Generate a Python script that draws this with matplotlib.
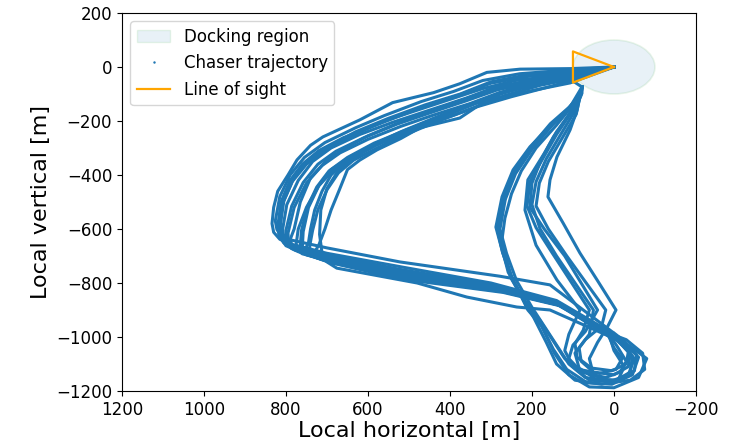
import numpy as np
import matplotlib
matplotlib.use("Agg")
import matplotlib.pyplot as plt
from matplotlib.patches import Ellipse, Patch
from matplotlib.lines import Line2D

# ------------------------------------------------------------
# Chaser trajectories (local frame, metres)
# family A: bottom band -> left corner -> top band -> target
# ------------------------------------------------------------
a1_x = [5, 140, 300, 520, 700, 790, 815, 830, 834, 830, 820, 795, 773, 740, 710, 620, 540, 440, 376, 310, 229, 107, 0]
a1_y = [-985, -865, -800, -740, -690, -655, -638, -612, -580, -520, -460, -400, -344, -290, -259, -196, -132, -95, -62, -20, -8, -6, 0]
a2_x = [8, 150, 290, 520, 710, 785, 805, 817, 820, 812, 790, 760, 720, 660, 580, 470, 380, 300, 210, 100, 0]
a2_y = [-988, -870, -815, -758, -700, -668, -652, -625, -590, -500, -420, -360, -310, -262, -215, -150, -105, -60, -35, -20, 0]
a3_x = [10, 140, 280, 520, 700, 775, 795, 805, 808, 798, 770, 735, 690, 620, 540, 450, 360, 290, 200, 100, 0]
a3_y = [-990, -875, -820, -765, -712, -675, -660, -632, -600, -510, -420, -350, -300, -250, -205, -160, -115, -75, -48, -28, 0]
a4_x = [12, 130, 280, 520, 700, 770, 787, 794, 795, 780, 750, 712, 668, 600, 520, 440, 350, 280, 200, 100, 0]
a4_y = [-992, -880, -825, -772, -718, -684, -672, -645, -615, -520, -430, -365, -318, -268, -220, -178, -135, -95, -62, -35, 0]
a5_x = [15, 130, 270, 520, 690, 728, 732, 720, 705, 690, 670, 650, 620, 578, 520, 473, 376, 310, 205, 107, 0]
a5_y = [-995, -885, -835, -785, -725, -705, -690, -660, -600, -530, -456, -380, -345, -307, -265, -225, -189, -122, -89, -59, 0]
a6_x = [10, 135, 285, 520, 705, 760, 772, 775, 770, 750, 720, 690, 640, 570, 490, 410, 330, 250, 150, 60, 0]
a6_y = [-990, -878, -822, -768, -712, -692, -678, -655, -600, -520, -440, -380, -330, -280, -228, -180, -130, -85, -50, -20, 0]
a7_x = [10, 140, 290, 520, 700, 755, 752, 745, 740, 730, 712, 690, 650, 590, 520, 440, 360, 280, 190, 100, 0]
a7_y = [-990, -872, -815, -762, -706, -686, -672, -650, -600, -530, -460, -400, -345, -290, -240, -190, -142, -100, -65, -38, 0]
a8_x = [5, 156, 278, 522, 700, 790, 810, 822, 826, 815, 790, 755, 705, 630, 560, 470, 390, 320, 230, 120, 0]
a8_y = [-980, -807, -775, -722, -670, -640, -628, -602, -570, -480, -400, -335, -280, -225, -180, -128, -90, -50, -25, -12, 0]
a9_x = [15, 156, 237, 359, 480, 676, 700, 712, 718, 715, 700, 675, 640, 580, 500, 420, 340, 250, 150, 0]
a9_y = [-995, -900, -889, -852, -800, -745, -722, -690, -620, -530, -450, -390, -340, -290, -240, -195, -150, -110, -70, 0]
a10_x = [8, 135, 282, 520, 712, 780, 800, 812, 815, 808, 785, 750, 700, 640, 560, 480, 400, 320, 240, 130, 0]
a10_y = [-988, -876, -818, -762, -705, -675, -662, -635, -600, -505, -425, -360, -305, -255, -200, -160, -120, -80, -50, -30, 0]
a11_x = [12, 145, 285, 520, 705, 770, 785, 790, 780, 765, 740, 700, 655, 600, 530, 450, 370, 300, 210, 110, 0]
a11_y = [-992, -868, -812, -756, -703, -672, -660, -640, -600, -500, -410, -345, -300, -255, -210, -165, -122, -85, -55, -30, 0]
a12_x = [10, 125, 275, 520, 690, 750, 760, 758, 745, 720, 680, 630, 560, 480, 400, 320, 250, 170, 80, 0]
a12_y = [-990, -885, -830, -778, -722, -696, -665, -610, -520, -440, -375, -325, -270, -218, -170, -125, -80, -45, -20, 0]
a13_x = [6, 145, 295, 520, 705, 782, 802, 810, 814, 805, 782, 748, 700, 630, 550, 460, 375, 300, 215, 105, 0]
a13_y = [-986, -868, -808, -750, -695, -662, -650, -620, -585, -495, -415, -350, -298, -240, -190, -140, -100, -55, -30, -15, 0]
a14_x = [12, 138, 282, 520, 698, 755, 765, 762, 748, 725, 695, 650, 585, 505, 425, 345, 270, 185, 95, 0]
a14_y = [-992, -880, -826, -772, -716, -692, -660, -605, -520, -445, -385, -335, -282, -232, -185, -138, -95, -60, -32, 0]
a15_x = [9, 142, 288, 520, 708, 778, 792, 798, 800, 786, 758, 722, 678, 610, 530, 445, 360, 285, 195, 100, 0]
a15_y = [-989, -873, -817, -760, -706, -678, -665, -640, -605, -515, -428, -360, -312, -262, -212, -168, -125, -85, -55, -30, 0]
a16_x = [14, 128, 272, 520, 695, 742, 742, 735, 722, 700, 672, 635, 578, 500, 420, 340, 265, 180, 90, 0]
a16_y = [-994, -884, -832, -780, -723, -698, -662, -605, -528, -455, -392, -345, -300, -245, -195, -150, -105, -68, -40, 0]

# family B: loop near (0,-1000) -> climb -> stop below the cone
b1_x = [0, -40, -80, -60, 0, 60, 110, 145, 176, 210, 246, 271, 288, 273, 246, 205, 149, 107, 78, 95]
b1_y = [-995, -1035, -1080, -1150, -1188, -1185, -1140, -1060, -960, -900, -789, -689, -593, -481, -381, -296, -207, -148, -74, -57]
b2_x = [5, -20, -50, -35, 10, 70, 110, 140, 170, 200, 238, 262, 278, 265, 240, 200, 150, 110, 80, 78]
b2_y = [-995, -1030, -1080, -1140, -1165, -1150, -1100, -1030, -960, -890, -790, -690, -600, -490, -395, -305, -215, -155, -100, -74]
b3_x = [8, -10, -30, -15, 20, 80, 120, 150, 180, 215, 250, 268, 283, 268, 250, 210, 160, 115, 82, 78]
b3_y = [-998, -1040, -1090, -1130, -1150, -1130, -1080, -1010, -940, -870, -780, -680, -595, -500, -410, -320, -225, -160, -102, -74]
b4_x = [10, 0, -25, -10, 30, 95, 140, 165, 195, 225, 258, 275, 266, 250, 226, 190, 140, 105, 78, 78]
b4_y = [-1000, -1050, -1110, -1160, -1175, -1160, -1100, -1020, -930, -850, -760, -660, -560, -470, -385, -300, -215, -150, -98, -74]
b5_x = [5, -30, -70, -75, -40, 10, 50, 60, 40, 15, -5, 41, 83, 124, 161, 156, 139, 107, 90, 78]
b5_y = [-990, -1010, -1060, -1120, -1160, -1170, -1140, -1080, -1020, -960, -900, -789, -689, -578, -481, -418, -333, -233, -160, -74]
b6_x = [10, -20, -45, -40, 0, 60, 100, 120, 110, 95, 83, 139, 190, 217, 210, 170, 140, 100, 80, 78]
b6_y = [-995, -1020, -1070, -1130, -1165, -1160, -1110, -1050, -990, -940, -900, -789, -660, -530, -418, -320, -240, -160, -100, -74]
b7_x = [5, -15, -40, -35, 0, 50, 80, 85, 60, 50, 95, 140, 180, 200, 190, 165, 130, 98, 80, 78]
b7_y = [-990, -1020, -1060, -1110, -1140, -1130, -1090, -1040, -990, -900, -800, -700, -600, -510, -425, -340, -250, -170, -105, -74]
b8_x = [0, -25, -55, -50, -10, 45, 85, 95, 70, 30, 20, 70, 115, 160, 190, 182, 160, 125, 92, 78]
b8_y = [-985, -1015, -1065, -1125, -1160, -1155, -1115, -1060, -1010, -960, -900, -795, -700, -600, -515, -430, -350, -260, -175, -74]
b9_x = [12, 0, -20, -5, 35, 85, 110, 100, 70, 40, 80, 120, 170, 205, 200, 178, 148, 112, 85, 78]
b9_y = [-1000, -1040, -1080, -1120, -1135, -1120, -1080, -1030, -980, -900, -800, -700, -600, -520, -430, -345, -260, -180, -110, -74]
b10_x = [3, -30, -60, -45, 5, 65, 115, 148, 178, 212, 250, 272, 285, 270, 245, 205, 155, 110, 80, 78]
b10_y = [-993, -1030, -1075, -1140, -1175, -1170, -1120, -1045, -955, -885, -785, -685, -597, -490, -390, -300, -210, -150, -100, -74]
b11_x = [8, -10, -35, -30, 5, 55, 90, 95, 75, 60, 105, 150, 190, 212, 205, 172, 140, 104, 82, 78]
b11_y = [-992, -1015, -1055, -1100, -1125, -1115, -1075, -1025, -975, -900, -795, -690, -595, -515, -425, -335, -250, -168, -105, -74]

family_a = [(a1_x, a1_y), (a2_x, a2_y), (a3_x, a3_y), (a4_x, a4_y), (a5_x, a5_y), (a6_x, a6_y),
            (a7_x, a7_y), (a8_x, a8_y), (a9_x, a9_y), (a10_x, a10_y), (a11_x, a11_y), (a12_x, a12_y),
            (a13_x, a13_y), (a14_x, a14_y), (a15_x, a15_y), (a16_x, a16_y)]
family_b = [(b1_x, b1_y), (b2_x, b2_y), (b3_x, b3_y), (b4_x, b4_y), (b5_x, b5_y), (b6_x, b6_y),
            (b7_x, b7_y), (b8_x, b8_y), (b9_x, b9_y), (b10_x, b10_y), (b11_x, b11_y)]

# docking region and line-of-sight cone
dock_radius = 100
los_x = [0, 100, 100, 0]
los_y = [0, 57.7, -57.7, 0]

# ------------------------------------------------------------
fig = plt.figure(figsize=(7.41, 4.42), dpi=100)
ax = fig.add_axes([0.1646, 0.1154, 0.7746, 0.8552])

dock = Ellipse((0, 0), 2 * dock_radius, 2 * dock_radius, facecolor='tab:blue',
               edgecolor='tab:green', alpha=0.1, lw=1.2, zorder=1)
ax.add_patch(dock)

for tx, ty in family_a + family_b:
    ax.plot(tx, ty, color='tab:blue', lw=2.2, solid_joinstyle='round', zorder=2)

ax.plot(los_x, los_y, color='orange', lw=1.6, zorder=3)

ax.set_xlim(1200, -200)
ax.set_ylim(-1200, 200)
ax.set_xticks(np.arange(1200, -201, -200))
ax.set_yticks(np.arange(-1200, 201, 200))
ax.tick_params(labelsize=12)
ax.set_xlabel('Local horizontal [m]', fontsize=16, labelpad=2)
ax.set_ylabel('Local vertical [m]', fontsize=16)

handles = [
    Patch(facecolor='tab:blue', edgecolor='tab:green', alpha=0.1, label='Docking region'),
    Line2D([], [], color='tab:blue', marker='.', ls='', markersize=1.5, label='Chaser trajectory'),
    Line2D([], [], color='orange', lw=1.6, label='Line of sight'),
]
ax.legend(handles=handles, loc='upper left', fontsize=12)

plt.savefig('out.png', dpi=100)
